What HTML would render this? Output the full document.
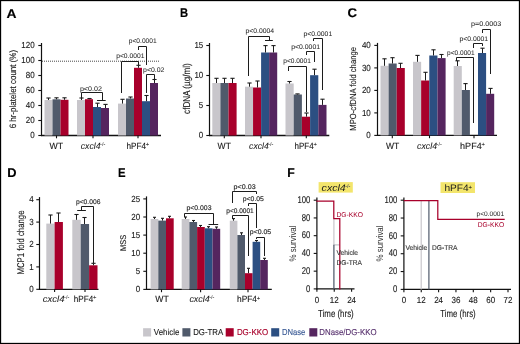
<!DOCTYPE html><html><head><meta charset="utf-8"><style>html,body{margin:0;padding:0;background:#fff;}svg{display:block;font-family:"Liberation Sans",sans-serif;will-change:transform;text-rendering:geometricPrecision;}</style></head><body>
<svg width="520" height="344" viewBox="0 0 520 344">
<rect x="0" y="0" width="520" height="344" fill="#fff"/>
<text x="6.6" y="17.5" font-size="12.6" fill="#000" font-weight="bold" textLength="10" lengthAdjust="spacingAndGlyphs" stroke="#000" stroke-width="0.15">A</text>
<text x="179.9" y="17.1" font-size="12.6" fill="#000" font-weight="bold" textLength="8.1" lengthAdjust="spacingAndGlyphs" stroke="#000" stroke-width="0.15">B</text>
<text x="347.4" y="17.1" font-size="12.6" fill="#000" font-weight="bold" textLength="9.5" lengthAdjust="spacingAndGlyphs" stroke="#000" stroke-width="0.15">C</text>
<text x="7.3" y="177" font-size="12.6" fill="#000" font-weight="bold" textLength="9.3" lengthAdjust="spacingAndGlyphs" stroke="#000" stroke-width="0.15">D</text>
<text x="118" y="177.2" font-size="12.6" fill="#000" font-weight="bold" textLength="7.6" lengthAdjust="spacingAndGlyphs" stroke="#000" stroke-width="0.15">E</text>
<text x="287.3" y="177" font-size="12.6" fill="#000" font-weight="bold" textLength="7.5" lengthAdjust="spacingAndGlyphs" stroke="#000" stroke-width="0.15">F</text>
<line x1="41.5" y1="43" x2="41.5" y2="136.1" stroke="#111" stroke-width="1.2"/>
<line x1="40.9" y1="135.5" x2="161" y2="135.5" stroke="#111" stroke-width="1.3"/>
<line x1="38.3" y1="135.5" x2="41.5" y2="135.5" stroke="#111" stroke-width="1.1"/>
<text x="34.7" y="138.1" font-size="8.8" fill="#1a1a1a" text-anchor="end" textLength="4.45" lengthAdjust="spacingAndGlyphs" stroke="#1a1a1a" stroke-width="0.12">0</text>
<line x1="38.3" y1="120.5" x2="41.5" y2="120.5" stroke="#111" stroke-width="1.1"/>
<text x="34.7" y="123.1" font-size="8.8" fill="#1a1a1a" text-anchor="end" textLength="8.9" lengthAdjust="spacingAndGlyphs" stroke="#1a1a1a" stroke-width="0.12">20</text>
<line x1="38.3" y1="105.5" x2="41.5" y2="105.5" stroke="#111" stroke-width="1.1"/>
<text x="34.7" y="108.1" font-size="8.8" fill="#1a1a1a" text-anchor="end" textLength="8.9" lengthAdjust="spacingAndGlyphs" stroke="#1a1a1a" stroke-width="0.12">40</text>
<line x1="38.3" y1="90.5" x2="41.5" y2="90.5" stroke="#111" stroke-width="1.1"/>
<text x="34.7" y="93.1" font-size="8.8" fill="#1a1a1a" text-anchor="end" textLength="8.9" lengthAdjust="spacingAndGlyphs" stroke="#1a1a1a" stroke-width="0.12">60</text>
<line x1="38.3" y1="75.5" x2="41.5" y2="75.5" stroke="#111" stroke-width="1.1"/>
<text x="34.7" y="78.1" font-size="8.8" fill="#1a1a1a" text-anchor="end" textLength="8.9" lengthAdjust="spacingAndGlyphs" stroke="#1a1a1a" stroke-width="0.12">80</text>
<line x1="38.3" y1="60.5" x2="41.5" y2="60.5" stroke="#111" stroke-width="1.1"/>
<text x="34.7" y="63.1" font-size="8.8" fill="#1a1a1a" text-anchor="end" textLength="13.35" lengthAdjust="spacingAndGlyphs" stroke="#1a1a1a" stroke-width="0.12">100</text>
<line x1="38.3" y1="45.5" x2="41.5" y2="45.5" stroke="#111" stroke-width="1.1"/>
<text x="34.7" y="48.1" font-size="8.8" fill="#1a1a1a" text-anchor="end" textLength="13.35" lengthAdjust="spacingAndGlyphs" stroke="#1a1a1a" stroke-width="0.12">120</text>
<line x1="42" y1="61.2" x2="160" y2="61.2" stroke="#333" stroke-width="0.9" stroke-dasharray="1,1"/>
<rect x="44.5" y="100" width="8" height="35.5" fill="#c8c6cb"/>
<line x1="48.5" y1="100" x2="48.5" y2="98" stroke="#1c1c1c" stroke-width="1"/>
<line x1="46.4" y1="98" x2="50.6" y2="98" stroke="#1c1c1c" stroke-width="1.1"/>
<rect x="52.5" y="99.3" width="8" height="36.2" fill="#505a6b"/>
<line x1="56.5" y1="99.3" x2="56.5" y2="97.8" stroke="#1c1c1c" stroke-width="1"/>
<line x1="54.4" y1="97.8" x2="58.6" y2="97.8" stroke="#1c1c1c" stroke-width="1.1"/>
<rect x="60.5" y="99.8" width="8" height="35.7" fill="#a8002b"/>
<line x1="64.5" y1="99.8" x2="64.5" y2="97.8" stroke="#1c1c1c" stroke-width="1"/>
<line x1="62.4" y1="97.8" x2="66.6" y2="97.8" stroke="#1c1c1c" stroke-width="1.1"/>
<rect x="77" y="100" width="8" height="35.5" fill="#c8c6cb"/>
<line x1="81.5" y1="100" x2="81.5" y2="98" stroke="#1c1c1c" stroke-width="1"/>
<line x1="79.4" y1="98" x2="83.6" y2="98" stroke="#1c1c1c" stroke-width="1.1"/>
<rect x="85" y="99.2" width="8" height="36.3" fill="#a8002b"/>
<line x1="89.5" y1="99.2" x2="89.5" y2="98.5" stroke="#1c1c1c" stroke-width="1"/>
<line x1="87.4" y1="98.5" x2="91.6" y2="98.5" stroke="#1c1c1c" stroke-width="1.1"/>
<rect x="93" y="107" width="8" height="28.5" fill="#2c4f82"/>
<line x1="97.5" y1="107" x2="97.5" y2="103.2" stroke="#1c1c1c" stroke-width="1"/>
<line x1="95.4" y1="103.2" x2="99.6" y2="103.2" stroke="#1c1c1c" stroke-width="1.1"/>
<rect x="101" y="108" width="8" height="27.5" fill="#55255f"/>
<line x1="105.5" y1="108" x2="105.5" y2="104.4" stroke="#1c1c1c" stroke-width="1"/>
<line x1="103.4" y1="104.4" x2="107.6" y2="104.4" stroke="#1c1c1c" stroke-width="1.1"/>
<rect x="118" y="103.6" width="8" height="31.9" fill="#c8c6cb"/>
<line x1="122.5" y1="103.6" x2="122.5" y2="99.3" stroke="#1c1c1c" stroke-width="1"/>
<line x1="120.4" y1="99.3" x2="124.6" y2="99.3" stroke="#1c1c1c" stroke-width="1.1"/>
<rect x="126" y="98.5" width="8" height="37" fill="#505a6b"/>
<line x1="130.5" y1="98.5" x2="130.5" y2="97" stroke="#1c1c1c" stroke-width="1"/>
<line x1="128.4" y1="97" x2="132.6" y2="97" stroke="#1c1c1c" stroke-width="1.1"/>
<rect x="134" y="67.8" width="8" height="67.7" fill="#a8002b"/>
<line x1="138.5" y1="67.8" x2="138.5" y2="65.3" stroke="#1c1c1c" stroke-width="1"/>
<line x1="136.4" y1="65.3" x2="140.6" y2="65.3" stroke="#1c1c1c" stroke-width="1.1"/>
<rect x="142" y="101.2" width="8" height="34.3" fill="#2c4f82"/>
<line x1="146.5" y1="101.2" x2="146.5" y2="95.5" stroke="#1c1c1c" stroke-width="1"/>
<line x1="144.4" y1="95.5" x2="148.6" y2="95.5" stroke="#1c1c1c" stroke-width="1.1"/>
<rect x="150" y="83" width="8" height="52.5" fill="#55255f"/>
<line x1="154.5" y1="83" x2="154.5" y2="79.5" stroke="#1c1c1c" stroke-width="1"/>
<line x1="152.4" y1="79.5" x2="156.6" y2="79.5" stroke="#1c1c1c" stroke-width="1.1"/>
<line x1="56.5" y1="135.5" x2="56.5" y2="138.3" stroke="#111" stroke-width="1.1"/>
<line x1="93" y1="135.5" x2="93" y2="138.3" stroke="#111" stroke-width="1.1"/>
<line x1="138" y1="135.5" x2="138" y2="138.3" stroke="#111" stroke-width="1.1"/>
<text x="49.5" y="148.8" font-size="9" fill="#1a1a1a" textLength="13.6" lengthAdjust="spacingAndGlyphs" stroke="#1a1a1a" stroke-width="0.12">WT</text>
<text x="80.8" y="148.8" font-size="9" fill="#1a1a1a" font-style="italic" textLength="19.7" lengthAdjust="spacingAndGlyphs" stroke="#1a1a1a" stroke-width="0.06">cxcl4</text>
<text x="100.1" y="145.7" font-size="5.2" fill="#555" textLength="5.1" lengthAdjust="spacingAndGlyphs" stroke="#555" stroke-width="0.1">-/-</text>
<text x="126.5" y="148.8" font-size="9" fill="#1a1a1a" textLength="19.5" lengthAdjust="spacingAndGlyphs" stroke="#1a1a1a" stroke-width="0.12">hPF4</text>
<text x="145.8" y="146.1" font-size="5.4" fill="#1a1a1a" textLength="3.4" lengthAdjust="spacingAndGlyphs" stroke="#1a1a1a" stroke-width="0.1">+</text>
<text x="15.9" y="128.3" font-size="9.3" fill="#1a1a1a" textLength="78.4" lengthAdjust="spacingAndGlyphs" transform="rotate(-90 15.9 128.3)" stroke="#1a1a1a" stroke-width="0.12">6 hr-platelet count (%)</text>
<text x="79.9" y="90.9" font-size="6.7" fill="#2a2a2a" textLength="22" lengthAdjust="spacingAndGlyphs" stroke="#2a2a2a" stroke-width="0.05">p&lt;0.02</text>
<polyline points="81.5,97.5 81.5,92.5 102.5,92.5 102.5,100.5" fill="none" stroke="#1c1c1c" stroke-width="1" stroke-linejoin="miter" stroke-linecap="square"/>
<line x1="97" y1="100.5" x2="105.7" y2="100.5" stroke="#1c1c1c" stroke-width="1"/>
<text x="116.2" y="57.5" font-size="6.7" fill="#2a2a2a" textLength="28.2" lengthAdjust="spacingAndGlyphs" stroke="#2a2a2a" stroke-width="0.05">p&lt;0.0001</text>
<polyline points="121.5,92.5 121.5,61.5 138.5,61.5 138.5,64.5" fill="none" stroke="#1c1c1c" stroke-width="1" stroke-linejoin="miter" stroke-linecap="square"/>
<text x="128.8" y="42.8" font-size="6.7" fill="#2a2a2a" textLength="27.9" lengthAdjust="spacingAndGlyphs" stroke="#2a2a2a" stroke-width="0.05">p&lt;0.0001</text>
<polyline points="138.5,49.5 138.5,46.5 146.5,46.5 146.5,64.5" fill="none" stroke="#1c1c1c" stroke-width="1" stroke-linejoin="miter" stroke-linecap="square"/>
<text x="143.1" y="71.9" font-size="6.7" fill="#2a2a2a" textLength="21.3" lengthAdjust="spacingAndGlyphs" stroke="#2a2a2a" stroke-width="0.05">p&lt;0.02</text>
<polyline points="146.5,92.5 146.5,74.5 154.5,74.5 154.5,79.5" fill="none" stroke="#1c1c1c" stroke-width="1" stroke-linejoin="miter" stroke-linecap="square"/>
<line x1="209.5" y1="43" x2="209.5" y2="136.1" stroke="#111" stroke-width="1.2"/>
<line x1="208.9" y1="135.5" x2="329.3" y2="135.5" stroke="#111" stroke-width="1.3"/>
<line x1="206.3" y1="135.5" x2="209.5" y2="135.5" stroke="#111" stroke-width="1.1"/>
<text x="203.3" y="138.1" font-size="8.8" fill="#1a1a1a" text-anchor="end" textLength="4.45" lengthAdjust="spacingAndGlyphs" stroke="#1a1a1a" stroke-width="0.12">0</text>
<line x1="206.3" y1="105.5" x2="209.5" y2="105.5" stroke="#111" stroke-width="1.1"/>
<text x="203.3" y="108.1" font-size="8.8" fill="#1a1a1a" text-anchor="end" textLength="4.45" lengthAdjust="spacingAndGlyphs" stroke="#1a1a1a" stroke-width="0.12">5</text>
<line x1="206.3" y1="75.5" x2="209.5" y2="75.5" stroke="#111" stroke-width="1.1"/>
<text x="203.3" y="78.1" font-size="8.8" fill="#1a1a1a" text-anchor="end" textLength="8.9" lengthAdjust="spacingAndGlyphs" stroke="#1a1a1a" stroke-width="0.12">10</text>
<line x1="206.3" y1="45.5" x2="209.5" y2="45.5" stroke="#111" stroke-width="1.1"/>
<text x="203.3" y="48.1" font-size="8.8" fill="#1a1a1a" text-anchor="end" textLength="8.9" lengthAdjust="spacingAndGlyphs" stroke="#1a1a1a" stroke-width="0.12">15</text>
<rect x="212.3" y="83" width="8.1" height="52.5" fill="#c8c6cb"/>
<line x1="216.5" y1="83" x2="216.5" y2="78.3" stroke="#1c1c1c" stroke-width="1"/>
<line x1="214.4" y1="78.3" x2="218.6" y2="78.3" stroke="#1c1c1c" stroke-width="1.1"/>
<rect x="220.4" y="83" width="8.1" height="52.5" fill="#505a6b"/>
<line x1="224.5" y1="83" x2="224.5" y2="78.3" stroke="#1c1c1c" stroke-width="1"/>
<line x1="222.4" y1="78.3" x2="226.6" y2="78.3" stroke="#1c1c1c" stroke-width="1.1"/>
<rect x="228.5" y="83" width="8.1" height="52.5" fill="#a8002b"/>
<line x1="232.5" y1="83" x2="232.5" y2="78.3" stroke="#1c1c1c" stroke-width="1"/>
<line x1="230.4" y1="78.3" x2="234.6" y2="78.3" stroke="#1c1c1c" stroke-width="1.1"/>
<rect x="245" y="86.7" width="8.05" height="48.8" fill="#c8c6cb"/>
<line x1="249.5" y1="86.7" x2="249.5" y2="83" stroke="#1c1c1c" stroke-width="1"/>
<line x1="247.4" y1="83" x2="251.6" y2="83" stroke="#1c1c1c" stroke-width="1.1"/>
<rect x="253.05" y="87.5" width="8.05" height="48" fill="#a8002b"/>
<line x1="257.5" y1="87.5" x2="257.5" y2="81" stroke="#1c1c1c" stroke-width="1"/>
<line x1="255.4" y1="81" x2="259.6" y2="81" stroke="#1c1c1c" stroke-width="1.1"/>
<rect x="261.1" y="52.5" width="8.05" height="83" fill="#2c4f82"/>
<line x1="265.5" y1="52.5" x2="265.5" y2="45.6" stroke="#1c1c1c" stroke-width="1"/>
<line x1="263.4" y1="45.6" x2="267.6" y2="45.6" stroke="#1c1c1c" stroke-width="1.1"/>
<rect x="269.15" y="52.5" width="8.05" height="83" fill="#55255f"/>
<line x1="273.5" y1="52.5" x2="273.5" y2="45.6" stroke="#1c1c1c" stroke-width="1"/>
<line x1="271.4" y1="45.6" x2="275.6" y2="45.6" stroke="#1c1c1c" stroke-width="1.1"/>
<rect x="285.5" y="83.5" width="8.2" height="52" fill="#c8c6cb"/>
<line x1="289.5" y1="83.5" x2="289.5" y2="81.5" stroke="#1c1c1c" stroke-width="1"/>
<line x1="287.4" y1="81.5" x2="291.6" y2="81.5" stroke="#1c1c1c" stroke-width="1.1"/>
<rect x="293.7" y="94.5" width="8.2" height="41" fill="#505a6b"/>
<line x1="297.5" y1="94.5" x2="297.5" y2="93.9" stroke="#1c1c1c" stroke-width="1"/>
<line x1="295.4" y1="93.9" x2="299.6" y2="93.9" stroke="#1c1c1c" stroke-width="1.1"/>
<rect x="301.9" y="116.7" width="8.2" height="18.8" fill="#a8002b"/>
<line x1="306.5" y1="116.7" x2="306.5" y2="113" stroke="#1c1c1c" stroke-width="1"/>
<line x1="304.4" y1="113" x2="308.6" y2="113" stroke="#1c1c1c" stroke-width="1.1"/>
<rect x="310.1" y="75.2" width="8.2" height="60.3" fill="#2c4f82"/>
<line x1="314.5" y1="75.2" x2="314.5" y2="69.2" stroke="#1c1c1c" stroke-width="1"/>
<line x1="312.4" y1="69.2" x2="316.6" y2="69.2" stroke="#1c1c1c" stroke-width="1.1"/>
<rect x="318.3" y="104.9" width="8.2" height="30.6" fill="#55255f"/>
<line x1="322.5" y1="104.9" x2="322.5" y2="99.2" stroke="#1c1c1c" stroke-width="1"/>
<line x1="320.4" y1="99.2" x2="324.6" y2="99.2" stroke="#1c1c1c" stroke-width="1.1"/>
<line x1="224.3" y1="135.5" x2="224.3" y2="138.3" stroke="#111" stroke-width="1.1"/>
<line x1="261" y1="135.5" x2="261" y2="138.3" stroke="#111" stroke-width="1.1"/>
<line x1="306.3" y1="135.5" x2="306.3" y2="138.3" stroke="#111" stroke-width="1.1"/>
<text x="217.6" y="148.8" font-size="9" fill="#1a1a1a" textLength="13.3" lengthAdjust="spacingAndGlyphs" stroke="#1a1a1a" stroke-width="0.12">WT</text>
<text x="249.1" y="148.8" font-size="9" fill="#1a1a1a" font-style="italic" textLength="19.6" lengthAdjust="spacingAndGlyphs" stroke="#1a1a1a" stroke-width="0.06">cxcl4</text>
<text x="268.3" y="145.7" font-size="5.2" fill="#555" textLength="5.1" lengthAdjust="spacingAndGlyphs" stroke="#555" stroke-width="0.1">-/-</text>
<text x="294.6" y="148.8" font-size="9" fill="#1a1a1a" textLength="19.1" lengthAdjust="spacingAndGlyphs" stroke="#1a1a1a" stroke-width="0.12">hPF4</text>
<text x="313.5" y="146.1" font-size="5.4" fill="#1a1a1a" textLength="3.4" lengthAdjust="spacingAndGlyphs" stroke="#1a1a1a" stroke-width="0.1">+</text>
<text x="189.8" y="113.9" font-size="10" fill="#1a1a1a" textLength="50.6" lengthAdjust="spacingAndGlyphs" transform="rotate(-90 189.8 113.9)" stroke="#1a1a1a" stroke-width="0.12">cfDNA (µg/ml)</text>
<text x="245.4" y="33.2" font-size="6.7" fill="#2a2a2a" textLength="28.7" lengthAdjust="spacingAndGlyphs" stroke="#2a2a2a" stroke-width="0.05">p&lt;0.0004</text>
<polyline points="248.5,75.5 248.5,36.5 269.5,36.5 269.5,40.5" fill="none" stroke="#1c1c1c" stroke-width="1" stroke-linejoin="miter" stroke-linecap="square"/>
<line x1="265" y1="40.5" x2="272.8" y2="40.5" stroke="#1c1c1c" stroke-width="1"/>
<text x="283.3" y="63.4" font-size="6.7" fill="#2a2a2a" textLength="27.5" lengthAdjust="spacingAndGlyphs" stroke="#2a2a2a" stroke-width="0.05">p&lt;0.0001</text>
<polyline points="288.5,70.5 288.5,66.5 306.5,66.5 306.5,111.5" fill="none" stroke="#1c1c1c" stroke-width="1" stroke-linejoin="miter" stroke-linecap="square"/>
<text x="291.2" y="49.3" font-size="6.7" fill="#2a2a2a" textLength="28.9" lengthAdjust="spacingAndGlyphs" stroke="#2a2a2a" stroke-width="0.05">p&lt;0.0001</text>
<polyline points="306.5,54.5 306.5,51.5 314.5,51.5 314.5,61.5" fill="none" stroke="#1c1c1c" stroke-width="1" stroke-linejoin="miter" stroke-linecap="square"/>
<text x="303.5" y="36.1" font-size="6.7" fill="#2a2a2a" textLength="28.7" lengthAdjust="spacingAndGlyphs" stroke="#2a2a2a" stroke-width="0.05">p&lt;0.0001</text>
<polyline points="313.5,40.5 313.5,38.5 322.5,38.5 322.5,89.5" fill="none" stroke="#1c1c1c" stroke-width="1" stroke-linejoin="miter" stroke-linecap="square"/>
<line x1="377.5" y1="42.9" x2="377.5" y2="136" stroke="#111" stroke-width="1.2"/>
<line x1="376.9" y1="135.4" x2="497" y2="135.4" stroke="#111" stroke-width="1.3"/>
<line x1="374.3" y1="135.4" x2="377.5" y2="135.4" stroke="#111" stroke-width="1.1"/>
<text x="370.8" y="138" font-size="8.8" fill="#1a1a1a" text-anchor="end" textLength="4.45" lengthAdjust="spacingAndGlyphs" stroke="#1a1a1a" stroke-width="0.12">0</text>
<line x1="374.3" y1="112.9" x2="377.5" y2="112.9" stroke="#111" stroke-width="1.1"/>
<text x="370.8" y="115.5" font-size="8.8" fill="#1a1a1a" text-anchor="end" textLength="8.9" lengthAdjust="spacingAndGlyphs" stroke="#1a1a1a" stroke-width="0.12">10</text>
<line x1="374.3" y1="90.4" x2="377.5" y2="90.4" stroke="#111" stroke-width="1.1"/>
<text x="370.8" y="93" font-size="8.8" fill="#1a1a1a" text-anchor="end" textLength="8.9" lengthAdjust="spacingAndGlyphs" stroke="#1a1a1a" stroke-width="0.12">20</text>
<line x1="374.3" y1="67.9" x2="377.5" y2="67.9" stroke="#111" stroke-width="1.1"/>
<text x="370.8" y="70.5" font-size="8.8" fill="#1a1a1a" text-anchor="end" textLength="8.9" lengthAdjust="spacingAndGlyphs" stroke="#1a1a1a" stroke-width="0.12">30</text>
<line x1="374.3" y1="45.4" x2="377.5" y2="45.4" stroke="#111" stroke-width="1.1"/>
<text x="370.8" y="48" font-size="8.8" fill="#1a1a1a" text-anchor="end" textLength="8.9" lengthAdjust="spacingAndGlyphs" stroke="#1a1a1a" stroke-width="0.12">40</text>
<rect x="380.5" y="65.8" width="8.1" height="69.6" fill="#c8c6cb"/>
<line x1="384.5" y1="65.8" x2="384.5" y2="58.8" stroke="#1c1c1c" stroke-width="1"/>
<line x1="382.4" y1="58.8" x2="386.6" y2="58.8" stroke="#1c1c1c" stroke-width="1.1"/>
<rect x="388.6" y="63.5" width="8.1" height="71.9" fill="#505a6b"/>
<line x1="392.5" y1="63.5" x2="392.5" y2="57.7" stroke="#1c1c1c" stroke-width="1"/>
<line x1="390.4" y1="57.7" x2="394.6" y2="57.7" stroke="#1c1c1c" stroke-width="1.1"/>
<rect x="396.7" y="68" width="8.1" height="67.4" fill="#a8002b"/>
<line x1="400.5" y1="68" x2="400.5" y2="63.3" stroke="#1c1c1c" stroke-width="1"/>
<line x1="398.4" y1="63.3" x2="402.6" y2="63.3" stroke="#1c1c1c" stroke-width="1.1"/>
<rect x="413" y="61.8" width="8.15" height="73.6" fill="#c8c6cb"/>
<line x1="417.5" y1="61.8" x2="417.5" y2="55.4" stroke="#1c1c1c" stroke-width="1"/>
<line x1="415.4" y1="55.4" x2="419.6" y2="55.4" stroke="#1c1c1c" stroke-width="1.1"/>
<rect x="421.15" y="80.5" width="8.15" height="54.9" fill="#a8002b"/>
<line x1="425.5" y1="80.5" x2="425.5" y2="72.3" stroke="#1c1c1c" stroke-width="1"/>
<line x1="423.4" y1="72.3" x2="427.6" y2="72.3" stroke="#1c1c1c" stroke-width="1.1"/>
<rect x="429.3" y="55.5" width="8.15" height="79.9" fill="#2c4f82"/>
<line x1="433.5" y1="55.5" x2="433.5" y2="49.8" stroke="#1c1c1c" stroke-width="1"/>
<line x1="431.4" y1="49.8" x2="435.6" y2="49.8" stroke="#1c1c1c" stroke-width="1.1"/>
<rect x="437.45" y="58.1" width="8.15" height="77.3" fill="#55255f"/>
<line x1="441.5" y1="58.1" x2="441.5" y2="54.5" stroke="#1c1c1c" stroke-width="1"/>
<line x1="439.4" y1="54.5" x2="443.6" y2="54.5" stroke="#1c1c1c" stroke-width="1.1"/>
<rect x="453.7" y="66" width="8.1" height="69.4" fill="#c8c6cb"/>
<line x1="457.5" y1="66" x2="457.5" y2="60.8" stroke="#1c1c1c" stroke-width="1"/>
<line x1="455.4" y1="60.8" x2="459.6" y2="60.8" stroke="#1c1c1c" stroke-width="1.1"/>
<rect x="461.8" y="90" width="8.1" height="45.4" fill="#505a6b"/>
<line x1="465.5" y1="90" x2="465.5" y2="83.6" stroke="#1c1c1c" stroke-width="1"/>
<line x1="463.4" y1="83.6" x2="467.6" y2="83.6" stroke="#1c1c1c" stroke-width="1.1"/>
<rect x="478" y="53" width="8.1" height="82.4" fill="#2c4f82"/>
<line x1="482.5" y1="53" x2="482.5" y2="48.2" stroke="#1c1c1c" stroke-width="1"/>
<line x1="480.4" y1="48.2" x2="484.6" y2="48.2" stroke="#1c1c1c" stroke-width="1.1"/>
<rect x="486.1" y="93.8" width="8.1" height="41.6" fill="#55255f"/>
<line x1="490.5" y1="93.8" x2="490.5" y2="88.4" stroke="#1c1c1c" stroke-width="1"/>
<line x1="488.4" y1="88.4" x2="492.6" y2="88.4" stroke="#1c1c1c" stroke-width="1.1"/>
<line x1="392.3" y1="135.4" x2="392.3" y2="138.2" stroke="#111" stroke-width="1.1"/>
<line x1="429.5" y1="135.4" x2="429.5" y2="138.2" stroke="#111" stroke-width="1.1"/>
<line x1="474" y1="135.4" x2="474" y2="138.2" stroke="#111" stroke-width="1.1"/>
<text x="385.9" y="148.8" font-size="9" fill="#1a1a1a" textLength="13.3" lengthAdjust="spacingAndGlyphs" stroke="#1a1a1a" stroke-width="0.12">WT</text>
<text x="417.1" y="148.8" font-size="9" fill="#1a1a1a" font-style="italic" textLength="19.9" lengthAdjust="spacingAndGlyphs" stroke="#1a1a1a" stroke-width="0.06">cxcl4</text>
<text x="436.6" y="145.7" font-size="5.2" fill="#555" textLength="5.1" lengthAdjust="spacingAndGlyphs" stroke="#555" stroke-width="0.1">-/-</text>
<text x="460.1" y="148.8" font-size="9" fill="#1a1a1a" textLength="21.6" lengthAdjust="spacingAndGlyphs" stroke="#1a1a1a" stroke-width="0.12">hPF4</text>
<text x="481.5" y="146.1" font-size="5.4" fill="#1a1a1a" textLength="3.4" lengthAdjust="spacingAndGlyphs" stroke="#1a1a1a" stroke-width="0.1">+</text>
<text x="356.5" y="130.7" font-size="8.8" fill="#1a1a1a" textLength="83.7" lengthAdjust="spacingAndGlyphs" transform="rotate(-90 356.5 130.7)" stroke="#1a1a1a" stroke-width="0.12">MPO-cfDNA fold change</text>
<text x="447.1" y="54.5" font-size="6.7" fill="#2a2a2a" textLength="27.5" lengthAdjust="spacingAndGlyphs" stroke="#2a2a2a" stroke-width="0.05">p&lt;0.0001</text>
<polyline points="456.5,60.5 456.5,57.5 473.5,57.5 473.5,122.5" fill="none" stroke="#1c1c1c" stroke-width="1" stroke-linejoin="miter" stroke-linecap="square"/>
<text x="459.4" y="40.6" font-size="6.7" fill="#2a2a2a" textLength="28.8" lengthAdjust="spacingAndGlyphs" stroke="#2a2a2a" stroke-width="0.05">p&lt;0.0001</text>
<polyline points="473.5,47.5 473.5,43.5 482.5,43.5 482.5,45.5" fill="none" stroke="#1c1c1c" stroke-width="1" stroke-linejoin="miter" stroke-linecap="square"/>
<text x="471.1" y="25.8" font-size="6.7" fill="#2a2a2a" textLength="30.2" lengthAdjust="spacingAndGlyphs" stroke="#2a2a2a" stroke-width="0.05">p=0.0003</text>
<polyline points="482.5,32.5 482.5,29.5 490.5,29.5 490.5,73.5" fill="none" stroke="#1c1c1c" stroke-width="1" stroke-linejoin="miter" stroke-linecap="square"/>
<line x1="39.5" y1="197.1" x2="39.5" y2="289.9" stroke="#111" stroke-width="1.2"/>
<line x1="38.9" y1="289.3" x2="98.5" y2="289.3" stroke="#111" stroke-width="1.3"/>
<line x1="36.3" y1="289.3" x2="39.5" y2="289.3" stroke="#111" stroke-width="1.1"/>
<text x="33.8" y="291.9" font-size="8.8" fill="#1a1a1a" text-anchor="end" textLength="4.45" lengthAdjust="spacingAndGlyphs" stroke="#1a1a1a" stroke-width="0.12">0</text>
<line x1="36.3" y1="266.9" x2="39.5" y2="266.9" stroke="#111" stroke-width="1.1"/>
<text x="33.8" y="269.5" font-size="8.8" fill="#1a1a1a" text-anchor="end" textLength="4.45" lengthAdjust="spacingAndGlyphs" stroke="#1a1a1a" stroke-width="0.12">1</text>
<line x1="36.3" y1="244.5" x2="39.5" y2="244.5" stroke="#111" stroke-width="1.1"/>
<text x="33.8" y="247.1" font-size="8.8" fill="#1a1a1a" text-anchor="end" textLength="4.45" lengthAdjust="spacingAndGlyphs" stroke="#1a1a1a" stroke-width="0.12">2</text>
<line x1="36.3" y1="222.1" x2="39.5" y2="222.1" stroke="#111" stroke-width="1.1"/>
<text x="33.8" y="224.7" font-size="8.8" fill="#1a1a1a" text-anchor="end" textLength="4.45" lengthAdjust="spacingAndGlyphs" stroke="#1a1a1a" stroke-width="0.12">3</text>
<line x1="36.3" y1="199.7" x2="39.5" y2="199.7" stroke="#111" stroke-width="1.1"/>
<text x="33.8" y="202.3" font-size="8.8" fill="#1a1a1a" text-anchor="end" textLength="4.45" lengthAdjust="spacingAndGlyphs" stroke="#1a1a1a" stroke-width="0.12">4</text>
<rect x="46.3" y="223.6" width="8.3" height="65.7" fill="#c8c6cb"/>
<line x1="50.5" y1="223.6" x2="50.5" y2="215" stroke="#1c1c1c" stroke-width="1"/>
<line x1="48.4" y1="215" x2="52.6" y2="215" stroke="#1c1c1c" stroke-width="1.1"/>
<rect x="54.6" y="222" width="8.3" height="67.3" fill="#a8002b"/>
<line x1="58.5" y1="222" x2="58.5" y2="213" stroke="#1c1c1c" stroke-width="1"/>
<line x1="56.4" y1="213" x2="60.6" y2="213" stroke="#1c1c1c" stroke-width="1.1"/>
<rect x="72.3" y="219.8" width="8.4" height="69.5" fill="#c8c6cb"/>
<line x1="76.5" y1="219.8" x2="76.5" y2="214.5" stroke="#1c1c1c" stroke-width="1"/>
<line x1="74.4" y1="214.5" x2="78.6" y2="214.5" stroke="#1c1c1c" stroke-width="1.1"/>
<rect x="80.7" y="224" width="8.4" height="65.3" fill="#505a6b"/>
<line x1="84.5" y1="224" x2="84.5" y2="217.5" stroke="#1c1c1c" stroke-width="1"/>
<line x1="82.4" y1="217.5" x2="86.6" y2="217.5" stroke="#1c1c1c" stroke-width="1.1"/>
<rect x="89.1" y="265.3" width="8.4" height="24" fill="#a8002b"/>
<line x1="93.5" y1="265.3" x2="93.5" y2="263.3" stroke="#1c1c1c" stroke-width="1"/>
<line x1="91.4" y1="263.3" x2="95.6" y2="263.3" stroke="#1c1c1c" stroke-width="1.1"/>
<line x1="54.6" y1="289.3" x2="54.6" y2="292.1" stroke="#111" stroke-width="1.1"/>
<line x1="85" y1="289.3" x2="85" y2="292.1" stroke="#111" stroke-width="1.1"/>
<text x="42.8" y="301.8" font-size="9" fill="#1a1a1a" font-style="italic" textLength="21.7" lengthAdjust="spacingAndGlyphs" stroke="#1a1a1a" stroke-width="0.06">cxcl4</text>
<text x="64.1" y="298.7" font-size="5.2" fill="#555" textLength="5.1" lengthAdjust="spacingAndGlyphs" stroke="#555" stroke-width="0.1">-/-</text>
<text x="73.8" y="301.8" font-size="9" fill="#1a1a1a" textLength="19.4" lengthAdjust="spacingAndGlyphs" stroke="#1a1a1a" stroke-width="0.12">hPF4</text>
<text x="93" y="299.1" font-size="5.4" fill="#1a1a1a" textLength="3.4" lengthAdjust="spacingAndGlyphs" stroke="#1a1a1a" stroke-width="0.1">+</text>
<text x="24.3" y="274.6" font-size="9.8" fill="#1a1a1a" textLength="64.1" lengthAdjust="spacingAndGlyphs" transform="rotate(-90 24.3 274.6)" stroke="#1a1a1a" stroke-width="0.12">MCP1 fold change</text>
<text x="75.9" y="203.5" font-size="6.7" fill="#2a2a2a" textLength="24.5" lengthAdjust="spacingAndGlyphs" stroke="#2a2a2a" stroke-width="0.15">p&lt;0.006</text>
<polyline points="81.5,210.5 81.5,206.5 93.5,206.5 93.5,262.5" fill="none" stroke="#1c1c1c" stroke-width="1" stroke-linejoin="miter" stroke-linecap="square"/>
<line x1="77.2" y1="210.5" x2="85.9" y2="210.5" stroke="#1c1c1c" stroke-width="1"/>
<line x1="146.5" y1="196.4" x2="146.5" y2="290" stroke="#111" stroke-width="1.2"/>
<line x1="145.9" y1="289.4" x2="271.8" y2="289.4" stroke="#111" stroke-width="1.3"/>
<line x1="143.3" y1="289.4" x2="146.5" y2="289.4" stroke="#111" stroke-width="1.1"/>
<text x="140.1" y="292" font-size="8.8" fill="#1a1a1a" text-anchor="end" textLength="4.45" lengthAdjust="spacingAndGlyphs" stroke="#1a1a1a" stroke-width="0.12">0</text>
<line x1="143.3" y1="271.3" x2="146.5" y2="271.3" stroke="#111" stroke-width="1.1"/>
<text x="140.1" y="273.9" font-size="8.8" fill="#1a1a1a" text-anchor="end" textLength="4.45" lengthAdjust="spacingAndGlyphs" stroke="#1a1a1a" stroke-width="0.12">5</text>
<line x1="143.3" y1="253.2" x2="146.5" y2="253.2" stroke="#111" stroke-width="1.1"/>
<text x="140.1" y="255.8" font-size="8.8" fill="#1a1a1a" text-anchor="end" textLength="8.9" lengthAdjust="spacingAndGlyphs" stroke="#1a1a1a" stroke-width="0.12">10</text>
<line x1="143.3" y1="235.1" x2="146.5" y2="235.1" stroke="#111" stroke-width="1.1"/>
<text x="140.1" y="237.7" font-size="8.8" fill="#1a1a1a" text-anchor="end" textLength="8.9" lengthAdjust="spacingAndGlyphs" stroke="#1a1a1a" stroke-width="0.12">15</text>
<line x1="143.3" y1="217" x2="146.5" y2="217" stroke="#111" stroke-width="1.1"/>
<text x="140.1" y="219.6" font-size="8.8" fill="#1a1a1a" text-anchor="end" textLength="8.9" lengthAdjust="spacingAndGlyphs" stroke="#1a1a1a" stroke-width="0.12">20</text>
<line x1="143.3" y1="198.9" x2="146.5" y2="198.9" stroke="#111" stroke-width="1.1"/>
<text x="140.1" y="201.5" font-size="8.8" fill="#1a1a1a" text-anchor="end" textLength="8.9" lengthAdjust="spacingAndGlyphs" stroke="#1a1a1a" stroke-width="0.12">25</text>
<rect x="150.6" y="219" width="7.7" height="70.4" fill="#c8c6cb"/>
<line x1="154.5" y1="219" x2="154.5" y2="217.3" stroke="#1c1c1c" stroke-width="1"/>
<line x1="153" y1="217.3" x2="156" y2="217.3" stroke="#1c1c1c" stroke-width="1.1"/>
<rect x="158.3" y="220.6" width="7.7" height="68.8" fill="#505a6b"/>
<line x1="162.5" y1="220.6" x2="162.5" y2="218.3" stroke="#1c1c1c" stroke-width="1"/>
<line x1="161" y1="218.3" x2="164" y2="218.3" stroke="#1c1c1c" stroke-width="1.1"/>
<rect x="166" y="218.3" width="7.7" height="71.1" fill="#a8002b"/>
<line x1="169.5" y1="218.3" x2="169.5" y2="216.3" stroke="#1c1c1c" stroke-width="1"/>
<line x1="168" y1="216.3" x2="171" y2="216.3" stroke="#1c1c1c" stroke-width="1.1"/>
<rect x="181.7" y="219" width="7.7" height="70.4" fill="#c8c6cb"/>
<line x1="185.5" y1="219" x2="185.5" y2="217" stroke="#1c1c1c" stroke-width="1"/>
<line x1="184" y1="217" x2="187" y2="217" stroke="#1c1c1c" stroke-width="1.1"/>
<rect x="189.4" y="222" width="7.7" height="67.4" fill="#505a6b"/>
<line x1="193.5" y1="222" x2="193.5" y2="220.5" stroke="#1c1c1c" stroke-width="1"/>
<line x1="192" y1="220.5" x2="195" y2="220.5" stroke="#1c1c1c" stroke-width="1.1"/>
<rect x="197.1" y="227" width="7.7" height="62.4" fill="#a8002b"/>
<line x1="200.5" y1="227" x2="200.5" y2="225.5" stroke="#1c1c1c" stroke-width="1"/>
<line x1="199" y1="225.5" x2="202" y2="225.5" stroke="#1c1c1c" stroke-width="1.1"/>
<rect x="204.8" y="228.3" width="7.7" height="61.1" fill="#2c4f82"/>
<line x1="208.5" y1="228.3" x2="208.5" y2="226.7" stroke="#1c1c1c" stroke-width="1"/>
<line x1="207" y1="226.7" x2="210" y2="226.7" stroke="#1c1c1c" stroke-width="1.1"/>
<rect x="212.5" y="228.8" width="7.7" height="60.6" fill="#55255f"/>
<line x1="216.5" y1="228.8" x2="216.5" y2="227" stroke="#1c1c1c" stroke-width="1"/>
<line x1="215" y1="227" x2="218" y2="227" stroke="#1c1c1c" stroke-width="1.1"/>
<rect x="229.8" y="220.7" width="7.6" height="68.7" fill="#c8c6cb"/>
<line x1="233.5" y1="220.7" x2="233.5" y2="218.6" stroke="#1c1c1c" stroke-width="1"/>
<line x1="232" y1="218.6" x2="235" y2="218.6" stroke="#1c1c1c" stroke-width="1.1"/>
<rect x="237.4" y="235" width="7.6" height="54.4" fill="#505a6b"/>
<line x1="241.5" y1="235" x2="241.5" y2="232.8" stroke="#1c1c1c" stroke-width="1"/>
<line x1="240" y1="232.8" x2="243" y2="232.8" stroke="#1c1c1c" stroke-width="1.1"/>
<rect x="245" y="273.2" width="7.6" height="16.2" fill="#a8002b"/>
<line x1="248.5" y1="273.2" x2="248.5" y2="268.3" stroke="#1c1c1c" stroke-width="1"/>
<line x1="247" y1="268.3" x2="250" y2="268.3" stroke="#1c1c1c" stroke-width="1.1"/>
<rect x="252.6" y="241.8" width="7.6" height="47.6" fill="#2c4f82"/>
<line x1="256.5" y1="241.8" x2="256.5" y2="240.5" stroke="#1c1c1c" stroke-width="1"/>
<line x1="255" y1="240.5" x2="258" y2="240.5" stroke="#1c1c1c" stroke-width="1.1"/>
<rect x="260.2" y="260" width="7.6" height="29.4" fill="#55255f"/>
<line x1="264.5" y1="260" x2="264.5" y2="258.3" stroke="#1c1c1c" stroke-width="1"/>
<line x1="263" y1="258.3" x2="266" y2="258.3" stroke="#1c1c1c" stroke-width="1.1"/>
<line x1="161.5" y1="289.4" x2="161.5" y2="292.2" stroke="#111" stroke-width="1.1"/>
<line x1="200.6" y1="289.4" x2="200.6" y2="292.2" stroke="#111" stroke-width="1.1"/>
<line x1="248" y1="289.4" x2="248" y2="292.2" stroke="#111" stroke-width="1.1"/>
<text x="155.2" y="302.4" font-size="9" fill="#1a1a1a" textLength="13.5" lengthAdjust="spacingAndGlyphs" stroke="#1a1a1a" stroke-width="0.12">WT</text>
<text x="189.4" y="302.4" font-size="9" fill="#1a1a1a" font-style="italic" textLength="20.3" lengthAdjust="spacingAndGlyphs" stroke="#1a1a1a" stroke-width="0.06">cxcl4</text>
<text x="209.3" y="299.3" font-size="5.2" fill="#555" textLength="5.1" lengthAdjust="spacingAndGlyphs" stroke="#555" stroke-width="0.1">-/-</text>
<text x="237.1" y="302.4" font-size="9" fill="#1a1a1a" textLength="19.9" lengthAdjust="spacingAndGlyphs" stroke="#1a1a1a" stroke-width="0.12">hPF4</text>
<text x="256.8" y="299.7" font-size="5.4" fill="#1a1a1a" textLength="3.4" lengthAdjust="spacingAndGlyphs" stroke="#1a1a1a" stroke-width="0.1">+</text>
<text x="125.9" y="250.9" font-size="8.3" fill="#1a1a1a" textLength="16.2" lengthAdjust="spacingAndGlyphs" transform="rotate(-90 125.9 250.9)" stroke="#1a1a1a" stroke-width="0.12">MSS</text>
<text x="186.4" y="209.9" font-size="6.7" fill="#2a2a2a" textLength="25.1" lengthAdjust="spacingAndGlyphs" stroke="#2a2a2a" stroke-width="0.15">p&lt;0.003</text>
<polyline points="184.5,216.5 184.5,213.5 213.5,213.5 213.5,224.5" fill="none" stroke="#1c1c1c" stroke-width="1" stroke-linejoin="miter" stroke-linecap="square"/>
<line x1="208.5" y1="224.5" x2="218.2" y2="224.5" stroke="#1c1c1c" stroke-width="1"/>
<text x="233.6" y="188.7" font-size="6.7" fill="#2a2a2a" textLength="22" lengthAdjust="spacingAndGlyphs" stroke="#2a2a2a" stroke-width="0.15">p&lt;0.03</text>
<polyline points="232.5,202.5 232.5,191.5 256.5,191.5 256.5,193.5" fill="none" stroke="#1c1c1c" stroke-width="1" stroke-linejoin="miter" stroke-linecap="square"/>
<text x="242.8" y="200.8" font-size="6.7" fill="#2a2a2a" textLength="21.1" lengthAdjust="spacingAndGlyphs" stroke="#2a2a2a" stroke-width="0.15">p&lt;0.05</text>
<polyline points="248.5,205.5 248.5,203.5 256.5,203.5 256.5,227.5" fill="none" stroke="#1c1c1c" stroke-width="1" stroke-linejoin="miter" stroke-linecap="square"/>
<text x="226.3" y="212.7" font-size="6.7" fill="#2a2a2a" textLength="27.4" lengthAdjust="spacingAndGlyphs" stroke="#2a2a2a" stroke-width="0.15">p&lt;0.0001</text>
<polyline points="232.5,218.5 232.5,215.5 248.5,215.5 248.5,255.5" fill="none" stroke="#1c1c1c" stroke-width="1" stroke-linejoin="miter" stroke-linecap="square"/>
<text x="249.8" y="233.8" font-size="6.7" fill="#2a2a2a" textLength="21.4" lengthAdjust="spacingAndGlyphs" stroke="#2a2a2a" stroke-width="0.15">p&lt;0.05</text>
<polyline points="256.5,238.5 256.5,237.5 264.5,237.5 264.5,255.5" fill="none" stroke="#1c1c1c" stroke-width="1" stroke-linejoin="miter" stroke-linecap="square"/>
<line x1="316.9" y1="197.4" x2="316.9" y2="289.5" stroke="#111" stroke-width="1.2"/>
<line x1="316.3" y1="288.9" x2="354.5" y2="288.9" stroke="#111" stroke-width="1.3"/>
<line x1="313.7" y1="288.9" x2="316.9" y2="288.9" stroke="#111" stroke-width="1.1"/>
<text x="310.3" y="291.6" font-size="9.8" fill="#1a1a1a" text-anchor="end" textLength="4.3" lengthAdjust="spacingAndGlyphs" stroke="#1a1a1a" stroke-width="0.12">0</text>
<line x1="313.7" y1="271.16" x2="316.9" y2="271.16" stroke="#111" stroke-width="1.1"/>
<text x="310.3" y="273.86" font-size="9.8" fill="#1a1a1a" text-anchor="end" textLength="8.6" lengthAdjust="spacingAndGlyphs" stroke="#1a1a1a" stroke-width="0.12">20</text>
<line x1="313.7" y1="253.42" x2="316.9" y2="253.42" stroke="#111" stroke-width="1.1"/>
<text x="310.3" y="256.12" font-size="9.8" fill="#1a1a1a" text-anchor="end" textLength="8.6" lengthAdjust="spacingAndGlyphs" stroke="#1a1a1a" stroke-width="0.12">40</text>
<line x1="313.7" y1="235.68" x2="316.9" y2="235.68" stroke="#111" stroke-width="1.1"/>
<text x="310.3" y="238.38" font-size="9.8" fill="#1a1a1a" text-anchor="end" textLength="8.6" lengthAdjust="spacingAndGlyphs" stroke="#1a1a1a" stroke-width="0.12">60</text>
<line x1="313.7" y1="217.94" x2="316.9" y2="217.94" stroke="#111" stroke-width="1.1"/>
<text x="310.3" y="220.64" font-size="9.8" fill="#1a1a1a" text-anchor="end" textLength="8.6" lengthAdjust="spacingAndGlyphs" stroke="#1a1a1a" stroke-width="0.12">80</text>
<line x1="313.7" y1="200.2" x2="316.9" y2="200.2" stroke="#111" stroke-width="1.1"/>
<text x="310.3" y="202.9" font-size="9.8" fill="#1a1a1a" text-anchor="end" textLength="12.9" lengthAdjust="spacingAndGlyphs" stroke="#1a1a1a" stroke-width="0.12">100</text>
<line x1="316.9" y1="288.9" x2="316.9" y2="291.7" stroke="#111" stroke-width="1.1"/>
<text x="316.9" y="302.5" font-size="8.8" fill="#1a1a1a" text-anchor="middle" textLength="4.45" lengthAdjust="spacingAndGlyphs" stroke="#1a1a1a" stroke-width="0.12">0</text>
<line x1="334.25" y1="288.9" x2="334.25" y2="291.7" stroke="#111" stroke-width="1.1"/>
<text x="334.25" y="302.5" font-size="8.8" fill="#1a1a1a" text-anchor="middle" textLength="8.9" lengthAdjust="spacingAndGlyphs" stroke="#1a1a1a" stroke-width="0.12">12</text>
<line x1="351.6" y1="288.9" x2="351.6" y2="291.7" stroke="#111" stroke-width="1.1"/>
<text x="351.6" y="302.5" font-size="8.8" fill="#1a1a1a" text-anchor="middle" textLength="8.9" lengthAdjust="spacingAndGlyphs" stroke="#1a1a1a" stroke-width="0.12">24</text>
<line x1="403.9" y1="197.4" x2="403.9" y2="290" stroke="#111" stroke-width="1.2"/>
<line x1="403.3" y1="289.4" x2="511" y2="289.4" stroke="#111" stroke-width="1.3"/>
<line x1="400.7" y1="289.4" x2="403.9" y2="289.4" stroke="#111" stroke-width="1.1"/>
<text x="397.3" y="292.1" font-size="9.8" fill="#1a1a1a" text-anchor="end" textLength="4.3" lengthAdjust="spacingAndGlyphs" stroke="#1a1a1a" stroke-width="0.12">0</text>
<line x1="400.7" y1="271.56" x2="403.9" y2="271.56" stroke="#111" stroke-width="1.1"/>
<text x="397.3" y="274.26" font-size="9.8" fill="#1a1a1a" text-anchor="end" textLength="8.6" lengthAdjust="spacingAndGlyphs" stroke="#1a1a1a" stroke-width="0.12">20</text>
<line x1="400.7" y1="253.72" x2="403.9" y2="253.72" stroke="#111" stroke-width="1.1"/>
<text x="397.3" y="256.42" font-size="9.8" fill="#1a1a1a" text-anchor="end" textLength="8.6" lengthAdjust="spacingAndGlyphs" stroke="#1a1a1a" stroke-width="0.12">40</text>
<line x1="400.7" y1="235.88" x2="403.9" y2="235.88" stroke="#111" stroke-width="1.1"/>
<text x="397.3" y="238.58" font-size="9.8" fill="#1a1a1a" text-anchor="end" textLength="8.6" lengthAdjust="spacingAndGlyphs" stroke="#1a1a1a" stroke-width="0.12">60</text>
<line x1="400.7" y1="218.04" x2="403.9" y2="218.04" stroke="#111" stroke-width="1.1"/>
<text x="397.3" y="220.74" font-size="9.8" fill="#1a1a1a" text-anchor="end" textLength="8.6" lengthAdjust="spacingAndGlyphs" stroke="#1a1a1a" stroke-width="0.12">80</text>
<line x1="400.7" y1="200.2" x2="403.9" y2="200.2" stroke="#111" stroke-width="1.1"/>
<text x="397.3" y="202.9" font-size="9.8" fill="#1a1a1a" text-anchor="end" textLength="12.9" lengthAdjust="spacingAndGlyphs" stroke="#1a1a1a" stroke-width="0.12">100</text>
<line x1="403.9" y1="289.4" x2="403.9" y2="292.2" stroke="#111" stroke-width="1.1"/>
<text x="403.9" y="303" font-size="8.8" fill="#1a1a1a" text-anchor="middle" textLength="4.45" lengthAdjust="spacingAndGlyphs" stroke="#1a1a1a" stroke-width="0.12">0</text>
<line x1="421.25" y1="289.4" x2="421.25" y2="292.2" stroke="#111" stroke-width="1.1"/>
<text x="421.25" y="303" font-size="8.8" fill="#1a1a1a" text-anchor="middle" textLength="8.9" lengthAdjust="spacingAndGlyphs" stroke="#1a1a1a" stroke-width="0.12">12</text>
<line x1="438.6" y1="289.4" x2="438.6" y2="292.2" stroke="#111" stroke-width="1.1"/>
<text x="438.6" y="303" font-size="8.8" fill="#1a1a1a" text-anchor="middle" textLength="8.9" lengthAdjust="spacingAndGlyphs" stroke="#1a1a1a" stroke-width="0.12">24</text>
<line x1="455.95" y1="289.4" x2="455.95" y2="292.2" stroke="#111" stroke-width="1.1"/>
<text x="455.95" y="303" font-size="8.8" fill="#1a1a1a" text-anchor="middle" textLength="8.9" lengthAdjust="spacingAndGlyphs" stroke="#1a1a1a" stroke-width="0.12">36</text>
<line x1="473.3" y1="289.4" x2="473.3" y2="292.2" stroke="#111" stroke-width="1.1"/>
<text x="473.3" y="303" font-size="8.8" fill="#1a1a1a" text-anchor="middle" textLength="8.9" lengthAdjust="spacingAndGlyphs" stroke="#1a1a1a" stroke-width="0.12">48</text>
<line x1="490.65" y1="289.4" x2="490.65" y2="292.2" stroke="#111" stroke-width="1.1"/>
<text x="490.65" y="303" font-size="8.8" fill="#1a1a1a" text-anchor="middle" textLength="8.9" lengthAdjust="spacingAndGlyphs" stroke="#1a1a1a" stroke-width="0.12">60</text>
<line x1="508" y1="289.4" x2="508" y2="292.2" stroke="#111" stroke-width="1.1"/>
<text x="508" y="303" font-size="8.8" fill="#1a1a1a" text-anchor="middle" textLength="8.9" lengthAdjust="spacingAndGlyphs" stroke="#1a1a1a" stroke-width="0.12">72</text>
<rect x="318.6" y="182.1" width="34.2" height="10.5" fill="#f3e56c"/>
<text x="321.6" y="190.8" font-size="9.4" fill="#1a1a1a" font-style="italic" textLength="24.1" lengthAdjust="spacingAndGlyphs">cxcl4</text>
<text x="345.3" y="187.7" font-size="5.2" fill="#555" textLength="5.1" lengthAdjust="spacingAndGlyphs" stroke="#555" stroke-width="0.1">-/-</text>
<polyline points="333.9,219.3 333.9,244.8 339.2,244.8" fill="none" stroke="#c8c6cb" stroke-width="1.2" stroke-linejoin="miter" stroke-linecap="square"/>
<line x1="333.9" y1="244.8" x2="333.9" y2="288.8" stroke="#505a6b" stroke-width="1.25"/>
<polyline points="316.9,201.1 333.8,201.1 333.8,218.7 339.8,218.7 339.8,288.8" fill="none" stroke="#a8002b" stroke-width="1.25" stroke-linejoin="miter" stroke-linecap="square"/>
<text x="336.5" y="217.3" font-size="7" fill="#a8002b" textLength="26.6" lengthAdjust="spacingAndGlyphs">DG-KKO</text>
<text x="336.5" y="254.7" font-size="7" fill="#333" textLength="21.6" lengthAdjust="spacingAndGlyphs" stroke="#333" stroke-width="0.12">Vehicle</text>
<text x="336.5" y="265.1" font-size="7" fill="#333" textLength="25.4" lengthAdjust="spacingAndGlyphs" stroke="#333" stroke-width="0.12">DG-TRA</text>
<text x="296.1" y="261.5" font-size="9.5" fill="#333" textLength="36" lengthAdjust="spacingAndGlyphs" transform="rotate(-90 296.1 261.5)">% survival</text>
<text x="318.1" y="316.5" font-size="10.2" fill="#1a1a1a" textLength="35.6" lengthAdjust="spacingAndGlyphs" stroke="#1a1a1a" stroke-width="0.12">Time (hrs)</text>
<rect x="440.5" y="182.2" width="34.5" height="10.8" fill="#f3e56c"/>
<text x="444.4" y="191.3" font-size="9.4" fill="#1a1a1a" textLength="24.3" lengthAdjust="spacingAndGlyphs">hPF4</text>
<text x="468.5" y="188.6" font-size="5.4" fill="#1a1a1a" textLength="3.4" lengthAdjust="spacingAndGlyphs" stroke="#1a1a1a" stroke-width="0.1">+</text>
<line x1="421.2" y1="200.2" x2="421.2" y2="289.4" stroke="#c8c6cb" stroke-width="1.2"/>
<line x1="428.9" y1="200.2" x2="428.9" y2="289.4" stroke="#505a6b" stroke-width="1.2"/>
<polyline points="404.4,200.6 437.8,200.6 437.8,219.3 504.1,219.3" fill="none" stroke="#a8002b" stroke-width="1.25" stroke-linejoin="miter" stroke-linecap="square"/>
<text x="405.4" y="249.5" font-size="7" fill="#333" textLength="21.8" lengthAdjust="spacingAndGlyphs" stroke="#333" stroke-width="0.12">Vehicle</text>
<text x="431.9" y="249.5" font-size="7" fill="#333" textLength="25.6" lengthAdjust="spacingAndGlyphs" stroke="#333" stroke-width="0.12">DG-TRA</text>
<text x="476.5" y="215.8" font-size="6.6" fill="#222" textLength="27.7" lengthAdjust="spacingAndGlyphs">p&lt;0.0001</text>
<text x="477.7" y="226.5" font-size="7" fill="#a8002b" textLength="26.5" lengthAdjust="spacingAndGlyphs">DG-KKO</text>
<text x="383.1" y="261.5" font-size="9.5" fill="#333" textLength="36" lengthAdjust="spacingAndGlyphs" transform="rotate(-90 383.1 261.5)">% survival</text>
<text x="440.3" y="316.5" font-size="10.2" fill="#1a1a1a" textLength="35.4" lengthAdjust="spacingAndGlyphs" stroke="#1a1a1a" stroke-width="0.12">Time (hrs)</text>
<rect x="143.1" y="328.2" width="8" height="8.3" fill="#c8c6cb"/>
<text x="153.8" y="334.9" font-size="8.6" fill="#222" textLength="25.5" lengthAdjust="spacingAndGlyphs" stroke="#222" stroke-width="0.12">Vehicle</text>
<rect x="182.4" y="328.2" width="8" height="8.3" fill="#505a6b"/>
<text x="193.2" y="334.9" font-size="8.6" fill="#222" textLength="29.9" lengthAdjust="spacingAndGlyphs" stroke="#222" stroke-width="0.12">DG-TRA</text>
<rect x="225.7" y="328.2" width="8" height="8.3" fill="#a8002b"/>
<text x="236.9" y="334.9" font-size="8.6" fill="#a8002b" textLength="31.3" lengthAdjust="spacingAndGlyphs" stroke="#a8002b" stroke-width="0.12">DG-KKO</text>
<rect x="271.2" y="328.2" width="8" height="8.3" fill="#2c4f82"/>
<text x="281.9" y="334.9" font-size="8.6" fill="#3a5a95" textLength="23.4" lengthAdjust="spacingAndGlyphs" stroke="#3a5a95" stroke-width="0.12">DNase</text>
<rect x="309.3" y="328.2" width="8" height="8.3" fill="#55255f"/>
<text x="319.3" y="334.9" font-size="8.6" fill="#5a3470" textLength="57.3" lengthAdjust="spacingAndGlyphs" stroke="#5a3470" stroke-width="0.12">DNase/DG-KKO</text>
<rect x="0.5" y="0.5" width="519" height="343" fill="none" stroke="#000" stroke-width="1.3"/>
</svg></body></html>
